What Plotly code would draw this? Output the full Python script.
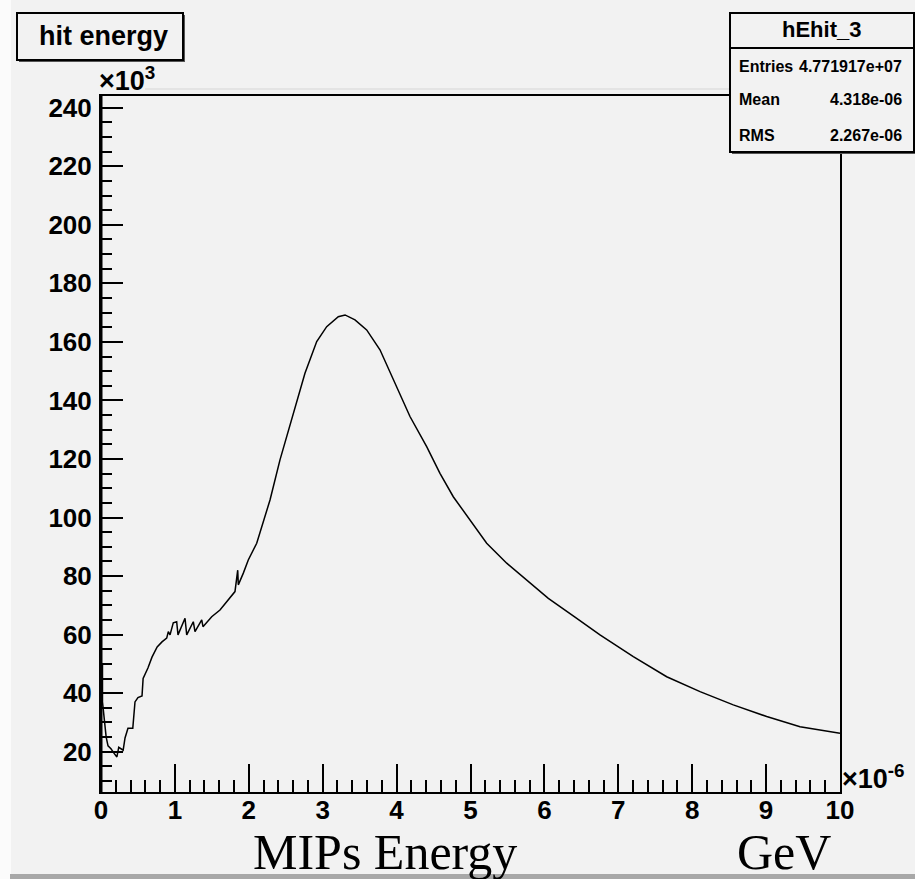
import plotly.graph_objects as go

# Hit energy histogram (x in units of 1e-6 GeV, y in units of 1e3 entries)
energy_e6 = [0.000, 0.020, 0.020, 0.040, 0.070, 0.095, 0.135, 0.175, 0.215, 0.240,
             0.270, 0.300, 0.325, 0.365, 0.430, 0.460, 0.500, 0.555, 0.570, 0.635,
             0.690, 0.760, 0.825, 0.889, 0.911, 0.934, 0.978, 1.024, 1.042, 1.137,
             1.160, 1.249, 1.272, 1.363, 1.380, 1.498, 1.610, 1.719, 1.813, 1.850,
             1.858, 1.926, 1.993, 2.107, 2.287, 2.422, 2.625, 2.760, 2.919, 3.054,
             3.211, 3.302, 3.437, 3.595, 3.775, 3.955, 4.181, 4.407, 4.587, 4.767,
             4.993, 5.219, 5.490, 5.761, 6.053, 6.414, 6.752, 7.203, 7.655, 8.106,
             8.556, 9.008, 9.459, 10.000]
entries_k = [50.0, 50.0, 37.0, 31.0, 25.0, 22.0, 21.0, 19.5, 18.2, 21.5,
             21.0, 20.5, 24.7, 28.0, 28.0, 37.0, 38.5, 39.0, 45.0, 48.6,
             52.3, 55.8, 57.5, 58.8, 61.0, 59.9, 64.0, 64.4, 59.9, 65.6,
             59.9, 64.4, 61.0, 65.0, 62.7, 66.1, 68.4, 71.8, 74.7, 82.0,
             77.0, 81.0, 85.5, 91.2, 106.0, 119.7, 137.9, 149.3, 160.1, 165.2,
             168.6, 169.2, 167.5, 164.1, 157.3, 147.0, 134.5, 124.2, 115.1, 107.1,
             99.2, 91.2, 84.4, 78.7, 72.4, 66.0, 59.9, 52.5, 45.6, 40.5,
             36.0, 32.0, 28.5, 26.3]

hist_name = "hEhit_3"
stat_labels = ["Entries", "Mean", "RMS"]
stat_values = ["4.771917e+07", "4.318e-06", "2.267e-06"]
title_text = "hit energy"
x_title = "MIPs Energy"
x_unit = "GeV"

W, H = 915, 879
BG = "#f2f2f2"
AXFONT = "Liberation Sans, Arial, sans-serif"
SERIF = "Liberation Serif, Times New Roman, DejaVu Serif, serif"


def fx(px):
    return px / W


def fy(py):
    return 1 - py / H


fig = go.Figure()
fig.add_trace(go.Scatter(
    x=energy_e6, y=entries_k, mode="lines",
    line=dict(color="black", width=1.5), hoverinfo="skip", showlegend=False,
))

axis_common = dict(
    showline=True, linecolor="black", linewidth=2, mirror=True, automargin=False,
    showgrid=False, zeroline=False, ticks="inside", tickcolor="black",
    tickfont=dict(family=AXFONT, size=26, color="black", weight="bold"),
)

fig.update_layout(
    width=W, height=H,
    margin=dict(l=0, r=0, t=0, b=0, autoexpand=False),
    paper_bgcolor=BG, plot_bgcolor=BG,
    xaxis=dict(
        **axis_common,
        domain=[fx(101), fx(840)], range=[0, 10],
        tick0=0, dtick=1, ticklen=28, tickwidth=1.5, ticklabelstandoff=-6,
        minor=dict(dtick=0.2, ticks="inside", ticklen=12, tickwidth=1.5, tickcolor="black"),
    ),
    yaxis=dict(
        **axis_common,
        domain=[fy(791.7), fy(96)], range=[6.33, 244],
        tick0=0, dtick=20, ticklen=22, tickwidth=1.5, ticklabelstandoff=2,
        minor=dict(dtick=5, ticks="inside", ticklen=11, tickwidth=1.5, tickcolor="black"),
    ),
)

shapes = []
annotations = []

# light left strip and bottom bar of the canvas
shapes.append(dict(type="rect", xref="paper", yref="paper", x0=0, x1=fx(11), y0=0, y1=1,
                   fillcolor="#fbfbfb", line=dict(width=0), layer="below"))
shapes.append(dict(type="rect", xref="paper", yref="paper", x0=fx(10), x1=1, y0=0, y1=fy(874),
                   fillcolor="#a8a8a8", line=dict(width=0)))
# pad border line above the frame
shapes.append(dict(type="line", xref="paper", yref="paper", x0=fx(145), x1=fx(730),
                   y0=fy(89), y1=fy(89), line=dict(color="#d6d6d6", width=1)))
# heavier left frame edge
shapes.append(dict(type="line", xref="paper", yref="paper", x0=fx(101), x1=fx(101),
                   y0=fy(792), y1=fy(96), line=dict(color="black", width=3)))

# title box with shadow
shapes.append(dict(type="rect", xref="paper", yref="paper", x0=fx(19), x1=fx(185),
                   y0=fy(62), y1=fy(15), fillcolor="#555555", line=dict(width=0)))
shapes.append(dict(type="rect", xref="paper", yref="paper", x0=fx(17), x1=fx(183),
                   y0=fy(60), y1=fy(13), fillcolor=BG, line=dict(color="black", width=2)))
annotations.append(dict(xref="paper", yref="paper", x=fx(103), y=fy(36), text=title_text,
                        showarrow=False, xanchor="center", yanchor="middle",
                        font=dict(family=AXFONT, size=27, color="black", weight="bold")))

# statistics box with shadow
shapes.append(dict(type="rect", xref="paper", yref="paper", x0=fx(732), x1=fx(916),
                   y0=fy(154), y1=fy(15), fillcolor="#555555", line=dict(width=0)))
shapes.append(dict(type="rect", xref="paper", yref="paper", x0=fx(730), x1=fx(914),
                   y0=fy(152), y1=fy(13), fillcolor=BG, line=dict(color="black", width=2)))
shapes.append(dict(type="line", xref="paper", yref="paper", x0=fx(730), x1=fx(914),
                   y0=fy(48), y1=fy(48), line=dict(color="black", width=2)))
annotations.append(dict(xref="paper", yref="paper", x=fx(821), y=fy(30), text=hist_name,
                        showarrow=False, xanchor="center", yanchor="middle",
                        font=dict(family=AXFONT, size=22, color="black", weight="bold")))
row_y = [67, 100, 135]
for lab, val, ry in zip(stat_labels, stat_values, row_y):
    annotations.append(dict(xref="paper", yref="paper", x=fx(737), y=fy(ry), text=lab,
                            showarrow=False, xanchor="left", yanchor="middle",
                            font=dict(family=AXFONT, size=16, color="black", weight="bold")))
    annotations.append(dict(xref="paper", yref="paper", x=fx(904), y=fy(ry), text=val,
                            showarrow=False, xanchor="right", yanchor="middle",
                            font=dict(family=AXFONT, size=16, color="black", weight="bold")))

# axis exponents
annotations.append(dict(xref="paper", yref="paper", x=fx(97), y=fy(79), text="×10<sup>3</sup>",
                        showarrow=False, xanchor="left", yanchor="middle",
                        font=dict(family=AXFONT, size=27, color="black", weight="bold")))
annotations.append(dict(xref="paper", yref="paper", x=fx(840), y=fy(777), text="×10<sup>-6</sup>",
                        showarrow=False, xanchor="left", yanchor="middle",
                        font=dict(family=AXFONT, size=27, color="black", weight="bold")))

# axis title text
annotations.append(dict(xref="paper", yref="paper", x=fx(251), y=fy(852), text=x_title,
                        showarrow=False, xanchor="left", yanchor="middle",
                        font=dict(family=SERIF, size=50, color="black")))
annotations.append(dict(xref="paper", yref="paper", x=fx(735), y=fy(852), text=x_unit,
                        showarrow=False, xanchor="left", yanchor="middle",
                        font=dict(family=SERIF, size=50, color="black")))

fig.update_layout(shapes=shapes, annotations=annotations)
fig.write_html("out.html")
